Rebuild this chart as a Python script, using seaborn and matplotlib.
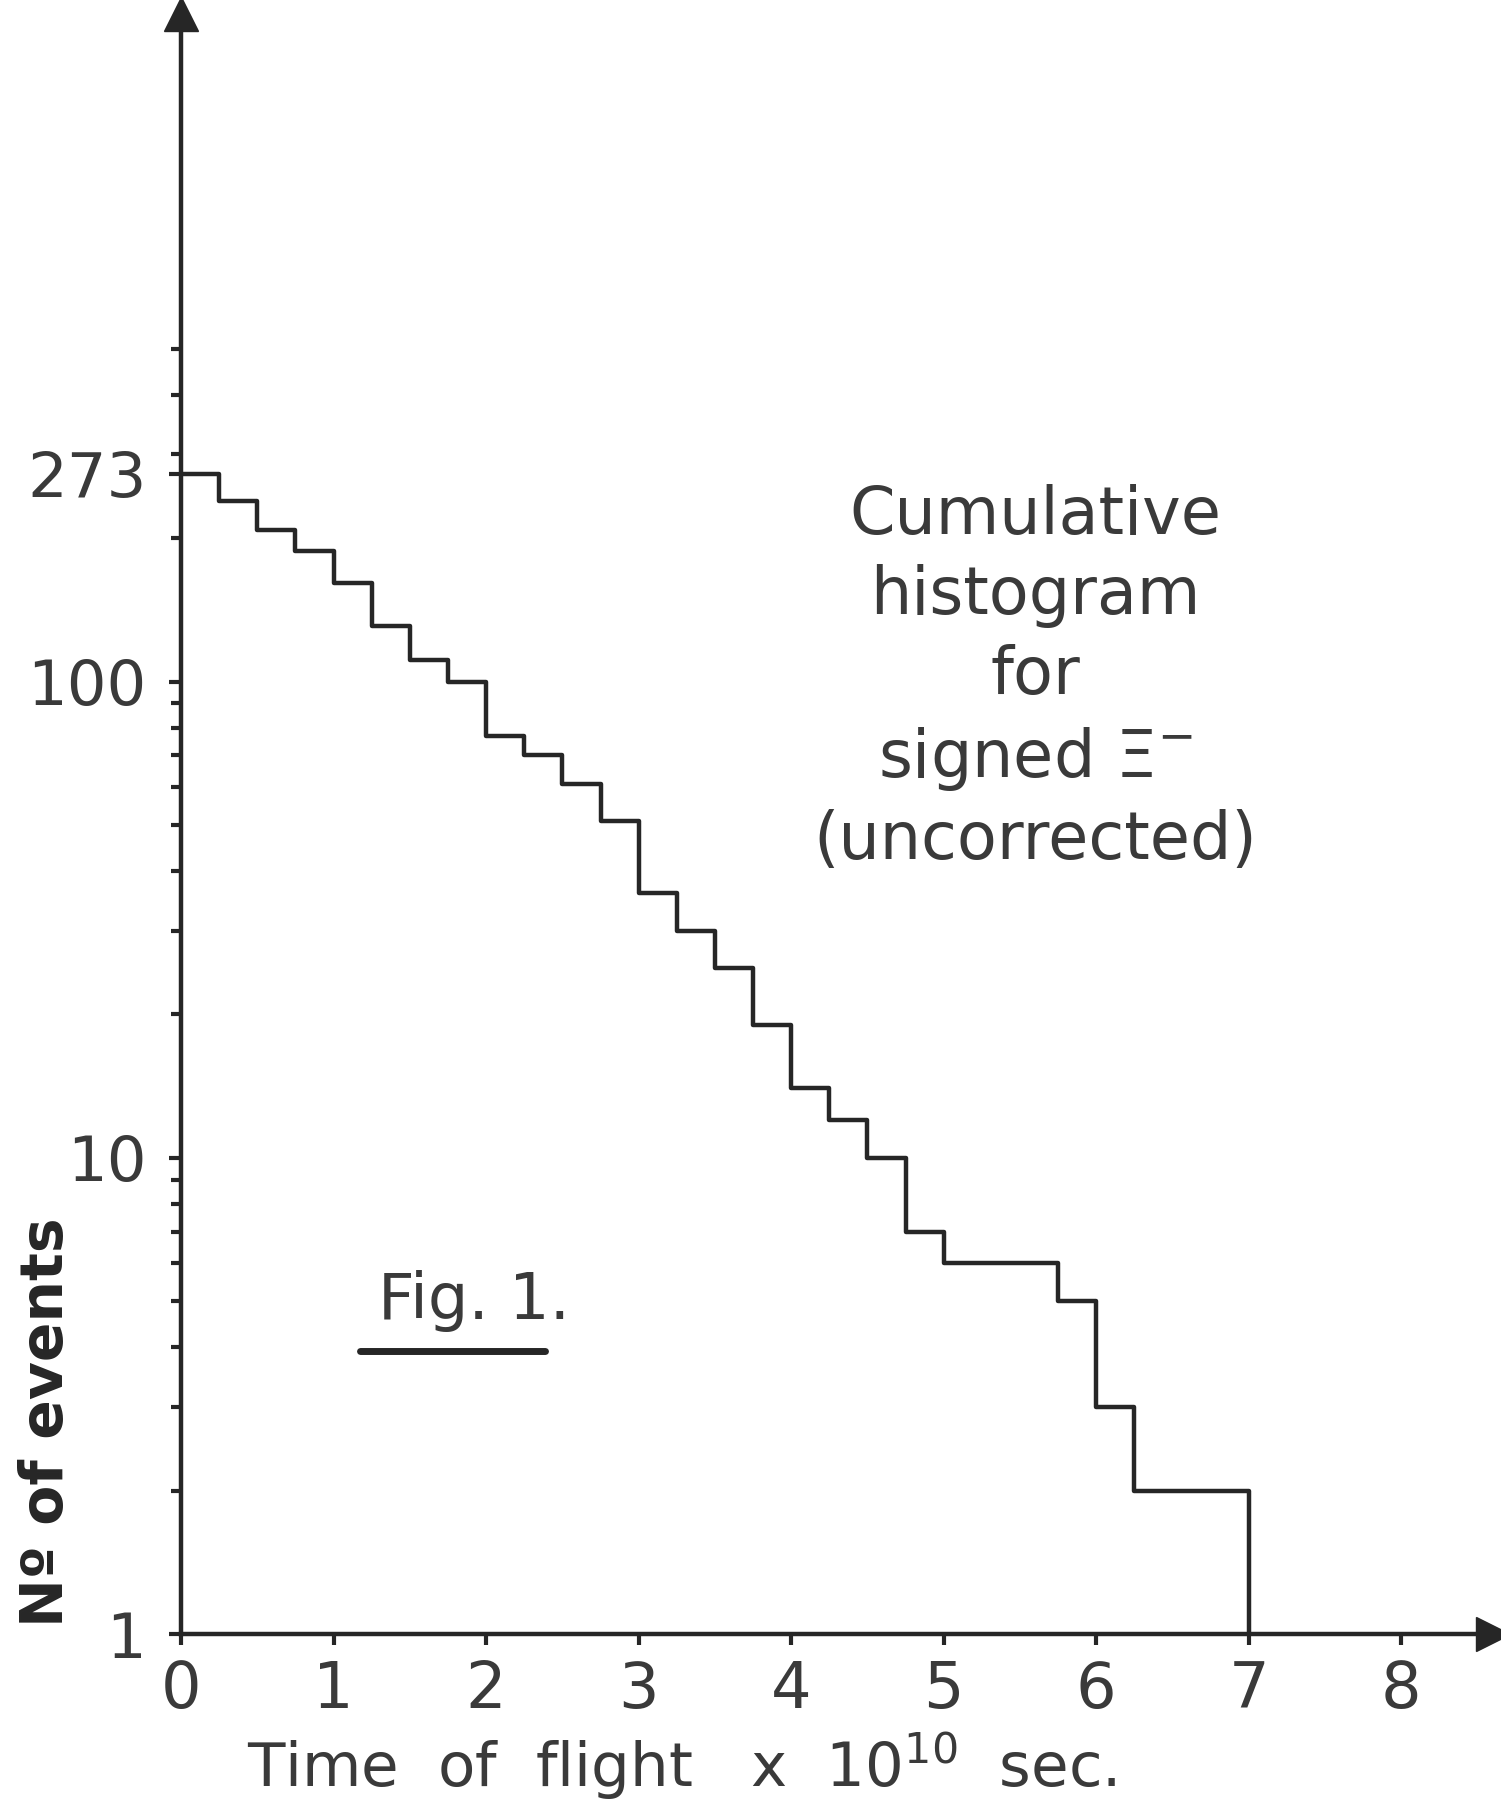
import matplotlib
matplotlib.use("Agg")
import matplotlib.pyplot as plt
import matplotlib.ticker as mticker
from matplotlib.lines import Line2D
import seaborn as sns
import pandas as pd

# Cumulative number of events still alive at each time (x 1e-10 s)
time_edges = [0.0, 0.25, 0.5, 0.75, 1.0, 1.25, 1.5, 1.75, 2.0, 2.25, 2.5, 2.75,
              3.0, 3.25, 3.5, 3.75, 4.0, 4.25, 4.5, 4.75, 5.0, 5.25, 5.5, 5.75,
              6.0, 6.25, 6.5, 6.75, 7.0]
n_events = [273, 239, 208, 188, 161, 131, 111, 100, 77, 70, 61, 51,
            36, 30, 25, 19, 14, 12, 10, 7, 6, 6, 6, 5,
            3, 2, 2, 2, 1]

x_ticks = [0, 1, 2, 3, 4, 5, 6, 7, 8]
y_ticks = [1, 10, 100, 273]
y_minor = [2, 3, 4, 5, 6, 7, 8, 9, 20, 30, 40, 50, 60, 70, 80, 90, 200, 300, 400, 500]

df = pd.DataFrame({"t": time_edges, "n": n_events})

sns.set_style("ticks")
plt.rcParams["font.family"] = ["DejaVu Sans"]
ink = "#262626"
txt = "#3a3a3a"

fig = plt.figure(figsize=(15.01, 18.10), dpi=100)
ax = fig.add_axes([0.1206, 0.0972, 0.874, 0.895])

sns.lineplot(data=df, x="t", y="n", drawstyle="steps-post", color=ink,
             linewidth=3.2, ax=ax)

ax.set_yscale("log")
ax.set_xlim(0, 8.6)
ax.set_ylim(1, 2520)

ax.set_xticks(x_ticks)
ax.set_xticklabels([str(v) for v in x_ticks])
ax.yaxis.set_major_locator(mticker.FixedLocator(y_ticks))
ax.yaxis.set_major_formatter(mticker.FixedFormatter([str(v) for v in y_ticks]))
ax.yaxis.set_minor_locator(mticker.FixedLocator(y_minor))
ax.yaxis.set_minor_formatter(mticker.NullFormatter())

ax.tick_params(axis="x", direction="out", length=8, width=3, color=ink,
               labelsize=46, labelcolor=txt, pad=10)
ax.tick_params(axis="y", which="major", direction="out", length=9, width=3,
               color=ink, labelsize=45, labelcolor=txt, pad=16)
ax.tick_params(axis="y", which="minor", direction="out", length=7, width=3,
               color=ink)

sns.despine(ax=ax)
for side in ["left", "bottom"]:
    ax.spines[side].set_linewidth(3.2)
    ax.spines[side].set_color(ink)

ax.set_xlabel("")
ax.set_ylabel("")

# arrow heads at the axis ends
ax.plot(1, 0, ">", color=ink, markersize=24, transform=ax.transAxes, clip_on=False)
ax.plot(0, 1, "^", color=ink, markersize=24, transform=ax.transAxes, clip_on=False)

fig.text(0.690, 0.625,
         "Cumulative\nhistogram\nfor\nsigned $\\Xi^{-}$\n(uncorrected)",
         ha="center", va="center", multialignment="center",
         fontsize=47, color=txt, linespacing=1.32)

fig.text(0.316, 0.281, "Fig. 1.", ha="center", va="center", fontsize=46, color=txt)
fig.add_artist(Line2D([0.240, 0.363], [0.2536, 0.2536], transform=fig.transFigure,
                      color=ink, linewidth=5))

fig.text(0.031, 0.214, "Nº of events", rotation=90, ha="center", va="center",
         fontsize=42, fontweight="bold", color=ink)
fig.text(0.454, 0.024, "Time  of  flight   x  10$^{10}$  sec.", ha="center", va="center",
         fontsize=44, color=txt)

fig.savefig("out.png", dpi=100, facecolor="white")
